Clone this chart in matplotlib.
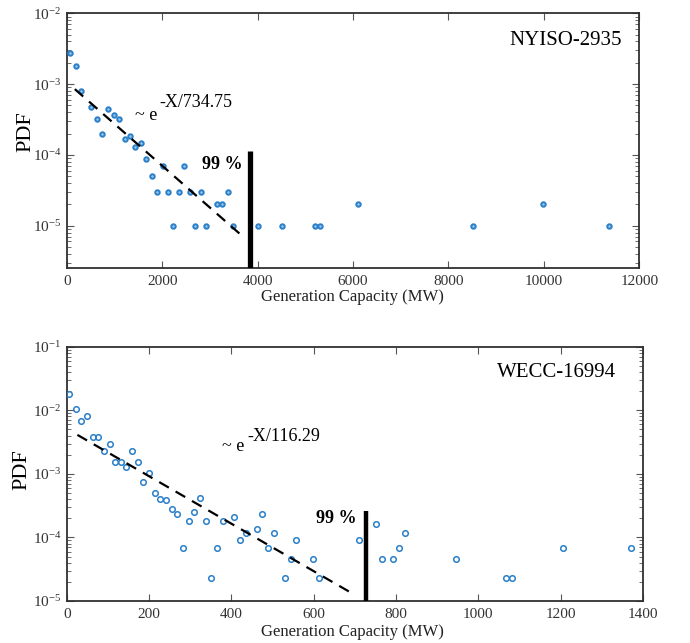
import numpy as np
import matplotlib
matplotlib.use('Agg')
import matplotlib.pyplot as plt
from matplotlib.ticker import LogLocator, NullFormatter, MultipleLocator

plt.rcParams['font.family'] = ['Liberation Serif', 'DejaVu Serif']
plt.rcParams['mathtext.fontset'] = 'custom'
plt.rcParams['mathtext.rm'] = 'Liberation Serif'
plt.rcParams['mathtext.it'] = 'Liberation Serif:italic'
plt.rcParams['mathtext.bf'] = 'Liberation Serif:bold'

# ---------------- data: NYISO-2935 ----------------
nyiso_x = [69, 189, 300, 509, 641, 746, 872, 985, 1096, 1216, 1320, 1432, 1551,
           1668, 1782, 1899, 2012, 2130, 2228, 2348, 2459, 2578, 2695, 2809, 2926,
           3144, 3255, 3381, 3492, 4010, 4519, 5198, 5316, 6112, 8510, 9990, 11361]
nyiso_pdf = [2.73e-3, 1.82e-3, 8.1e-4, 4.7e-4, 3.2e-4, 1.96e-4, 4.4e-4, 3.7e-4, 3.2e-4,
             1.67e-4, 1.86e-4, 1.29e-4, 1.47e-4, 8.8e-5, 5.0e-5, 3.0e-5, 6.9e-5, 3.0e-5,
             1.0e-5, 3.0e-5, 6.9e-5, 3.0e-5, 1.0e-5, 3.0e-5, 1.0e-5, 2.0e-5, 2.0e-5,
             3.0e-5, 1.0e-5, 1.0e-5, 1.0e-5, 1.0e-5, 1.0e-5, 2.0e-5, 1.0e-5, 2.0e-5, 1.0e-5]
nyiso_tau = 734.75
nyiso_amp = 1.07e-3
nyiso_fit_range = [170, 3670]
nyiso_cut = 3840
nyiso_cut_top = 1.14e-4

# ---------------- data: WECC-16994 ----------------
wecc_x = [6, 22, 35, 49, 64, 77, 91, 104, 118, 132, 145, 159, 172, 186, 200, 214,
          227, 241, 256, 269, 283, 297, 310, 325, 338, 351, 365, 379, 407, 421, 435,
          462, 475, 490, 504, 531, 544, 558, 599, 613, 709, 752, 765, 792, 807, 822,
          945, 1067, 1081, 1206, 1372]
wecc_pdf = [1.79e-2, 1.04e-2, 6.9e-3, 8.0e-3, 3.85e-3, 3.85e-3, 2.3e-3, 2.95e-3,
            1.55e-3, 1.55e-3, 1.29e-3, 2.3e-3, 1.55e-3, 7.4e-4, 1.02e-3, 5.0e-4,
            4.07e-4, 3.9e-4, 2.77e-4, 2.3e-4, 6.9e-5, 1.84e-4, 2.55e-4, 4.1e-4,
            1.84e-4, 2.3e-5, 6.9e-5, 1.84e-4, 2.1e-4, 9.2e-5, 1.16e-4, 1.38e-4,
            2.3e-4, 6.9e-5, 1.16e-4, 2.3e-5, 4.6e-5, 9.2e-5, 4.6e-5, 2.3e-5, 9.2e-5,
            1.6e-4, 4.6e-5, 4.6e-5, 6.9e-5, 1.16e-4, 4.6e-5, 2.3e-5, 2.3e-5, 6.9e-5, 6.9e-5]
wecc_tau = 116.29
wecc_amp = 5.13e-3
wecc_fit_range = [26, 697]
wecc_cut = 727
wecc_cut_top = 2.6e-4

W, H = 690, 643
fig = plt.figure(figsize=(W / 100, H / 100), dpi=100)

blue = '#2a7fc9'
tick_col = '#333333'


def frac(l, r, t, b):
    return [l / W, 1 - b / H, (r - l) / W, (b - t) / H]


def style(ax):
    for s in ax.spines.values():
        s.set_color('#303030')
        s.set_linewidth(1.3)
    ax.tick_params(which='both', direction='in', top=True, right=True,
                   colors='#555555', labelcolor=tick_col, labelsize=11)
    ax.tick_params(which='major', length=5, width=0.8)
    ax.tick_params(which='minor', length=3, width=0.6)
    ax.tick_params(axis='x', pad=5)
    ax.tick_params(axis='y', pad=4)
    ax.yaxis.set_minor_locator(LogLocator(base=10, subs=np.arange(2, 10), numticks=20))
    ax.yaxis.set_minor_formatter(NullFormatter())


# ---------------- top panel ----------------
ax1 = fig.add_axes(frac(66.7, 639.3, 13.3, 268.3))
ax1.set_yscale('log')
ax1.set_xlim(0, 12000)
ax1.set_ylim(2.5e-6, 1e-2)
ax1.xaxis.set_major_locator(MultipleLocator(2000))
ax1.yaxis.set_major_locator(LogLocator(base=10, numticks=10))
style(ax1)
ax1.plot(nyiso_x, nyiso_pdf, 'o', ms=3.2, mfc='#9cc8ea', mec=blue, mew=1.4,
         linestyle='none', zorder=3)
xf = np.linspace(nyiso_fit_range[0], nyiso_fit_range[1], 100)
ax1.plot(xf, nyiso_amp * np.exp(-xf / nyiso_tau), color='k', lw=1.6,
         dashes=(5, 3.5), zorder=4)
ax1.vlines(nyiso_cut, 2.5e-6, nyiso_cut_top, color='k', lw=3.8, zorder=5)
ax1.text(3695, 7.2e-5, '99 %', ha='right', va='center', fontsize=13,
         fontweight='bold')
ax1.text(1432, 3.6e-4, '~ e', ha='left', va='center', fontsize=13)
ax1.text(1935, 5.5e-4, '-X/734.75', ha='left', va='center', fontsize=13)
ax1.text(0.97, 0.895, 'NYISO-2935', transform=ax1.transAxes, ha='right',
         va='center', fontsize=15)

# ---------------- bottom panel ----------------
ax2 = fig.add_axes(frac(66.7, 643.0, 346.7, 601.0))
ax2.set_yscale('log')
ax2.set_xlim(0, 1400)
ax2.set_ylim(1e-5, 1e-1)
ax2.xaxis.set_major_locator(MultipleLocator(200))
ax2.yaxis.set_major_locator(LogLocator(base=10, numticks=10))
style(ax2)
ax2.plot(wecc_x, wecc_pdf, 'o', ms=4.0, mfc='none', mec=blue, mew=1.1,
         linestyle='none', zorder=3)
xf2 = np.linspace(wecc_fit_range[0], wecc_fit_range[1], 100)
ax2.plot(xf2, wecc_amp * np.exp(-xf2 / wecc_tau), color='k', lw=1.6,
         dashes=(5, 3.5), zorder=4)
ax2.vlines(wecc_cut, 1e-5, wecc_cut_top, color='k', lw=3.2, zorder=5)
ax2.text(705, 2.0e-4, '99 %', ha='right', va='center', fontsize=13,
         fontweight='bold')
ax2.text(377, 2.65e-3, '~ e', ha='left', va='center', fontsize=13)
ax2.text(438, 3.8e-3, '-X/116.29', ha='left', va='center', fontsize=13)
ax2.text(0.953, 0.897, 'WECC-16994', transform=ax2.transAxes, ha='right',
         va='center', fontsize=15)

# axis labels
fig.text(26 / W, 1 - 132 / H, 'PDF', rotation=90, ha='center', va='center',
         fontsize=16)
fig.text(22 / W, 1 - 470 / H, 'PDF', rotation=90, ha='center', va='center',
         fontsize=16)
fig.text(352 / W, 1 - 297 / H, 'Generation Capacity (MW)', ha='center',
         va='center', fontsize=12, color='#222222')
fig.text(352 / W, 1 - 632 / H, 'Generation Capacity (MW)', ha='center',
         va='center', fontsize=12, color='#222222')

fig.savefig('out.png', dpi=100)
